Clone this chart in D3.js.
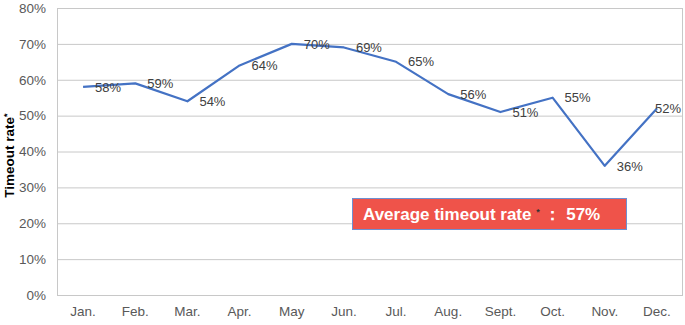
<!DOCTYPE html>
<style>
  body { margin: 0; background: white; }
  svg { display: block; font-family: "Liberation Sans", Arial, sans-serif; }
  .grid line { stroke: #c8c8c8; stroke-width: 1; }
  .tick text { fill: #595959; font-size: 13.5px; }
  .lbl { fill: #404040; font-size: 13px; }
</style>
<body>
</body>
<script src="https://cdn.jsdelivr.net/npm/d3@7/dist/d3.min.js"></script>
<script>
  const months = ['Jan.', 'Feb.', 'Mar.', 'Apr.', 'May', 'Jun.', 'Jul.', 'Aug.', 'Sept.', 'Oct.', 'Nov.', 'Dec.'];
  const rates = [58, 59, 54, 64, 70, 69, 65, 56, 51, 55, 36, 52];
  const yTicks = [0, 10, 20, 30, 40, 50, 60, 70, 80];
  const average = 57;

  const w = 685, h = 325;
  const l = 57, r = 683, t = 8, b = 295;

  const svg = d3.select('body').append('svg')
    .attr('width', w).attr('height', h);

  const x = d3.scaleBand().domain(months).range([l, r]);
  const y = d3.scaleLinear().domain([0, 80]).range([b, t]);
  const cx = i => x(months[i]) + x.bandwidth() / 2;

  // gridlines
  svg.append('g').attr('class', 'grid')
    .selectAll('line')
    .data(yTicks)
    .join('line')
    .attr('x1', l).attr('x2', r)
    .attr('y1', d => y(d) + 0.5).attr('y2', d => y(d) + 0.5);

  svg.append('line')
    .attr('x1', l + 0.5).attr('x2', l + 0.5)
    .attr('y1', t).attr('y2', b)
    .attr('stroke', '#c8c8c8');
  svg.append('line')
    .attr('x1', r - 0.5).attr('x2', r - 0.5)
    .attr('y1', t).attr('y2', b)
    .attr('stroke', '#c8c8c8');

  // y axis
  const yAx = svg.append('g')
    .attr('transform', `translate(${l}, 0)`)
    .call(d3.axisLeft(y).tickValues(yTicks).tickFormat(d => d + '%').tickSize(0).tickPadding(11));
  yAx.select('.domain').remove();

  // x axis
  const xAx = svg.append('g')
    .attr('transform', `translate(0, ${b})`)
    .call(d3.axisBottom(x).tickSize(0).tickPadding(11));
  xAx.select('.domain').remove();

  // y title
  const title = svg.append('text')
    .attr('transform', `translate(14, ${(t + b) / 2 + 4}) rotate(-90)`)
    .attr('text-anchor', 'middle')
    .attr('font-size', 13.5)
    .attr('font-weight', 'bold')
    .attr('fill', '#000');
  title.append('tspan').text('Timeout rate');
  title.append('tspan').text('*').attr('font-size', 9).attr('dy', -4);

  // line
  const line = d3.line()
    .x((d, i) => cx(i))
    .y(d => y(d));

  svg.append('path')
    .datum(rates)
    .attr('d', line)
    .attr('fill', 'none')
    .attr('stroke', '#4472c4')
    .attr('stroke-width', 2.2)
    .attr('stroke-linejoin', 'round');

  // data labels (kept inside the plot on the right)
  svg.append('g')
    .selectAll('text')
    .data(rates)
    .join('text')
    .attr('class', 'lbl')
    .attr('x', (d, i) => Math.min(cx(i) + 12, r - 28))
    .attr('y', d => y(d))
    .attr('dy', '0.36em')
    .text(d => d + '%');

  // average box
  const bx = 352, by = 198, bw = 274, bh = 31;
  svg.append('rect')
    .attr('x', bx + 0.5).attr('y', by + 0.5)
    .attr('width', bw).attr('height', bh)
    .attr('fill', '#ef534a')
    .attr('stroke', '#6f8fd0')
    .attr('stroke-width', 1);

  const avg = svg.append('text')
    .attr('x', bx + 11).attr('y', by + bh / 2 + 1)
    .attr('dy', '0.35em')
    .attr('font-size', 17)
    .attr('font-weight', 'bold')
    .attr('fill', '#fff');
  avg.append('tspan').text('Average timeout rate ');
  avg.append('tspan').text('*').attr('font-size', 9).attr('fill', '#333').attr('dy', -5);
  avg.append('tspan').text(' \uff1a ').attr('dy', 5);
  avg.append('tspan').text(average + '%');
</script>
